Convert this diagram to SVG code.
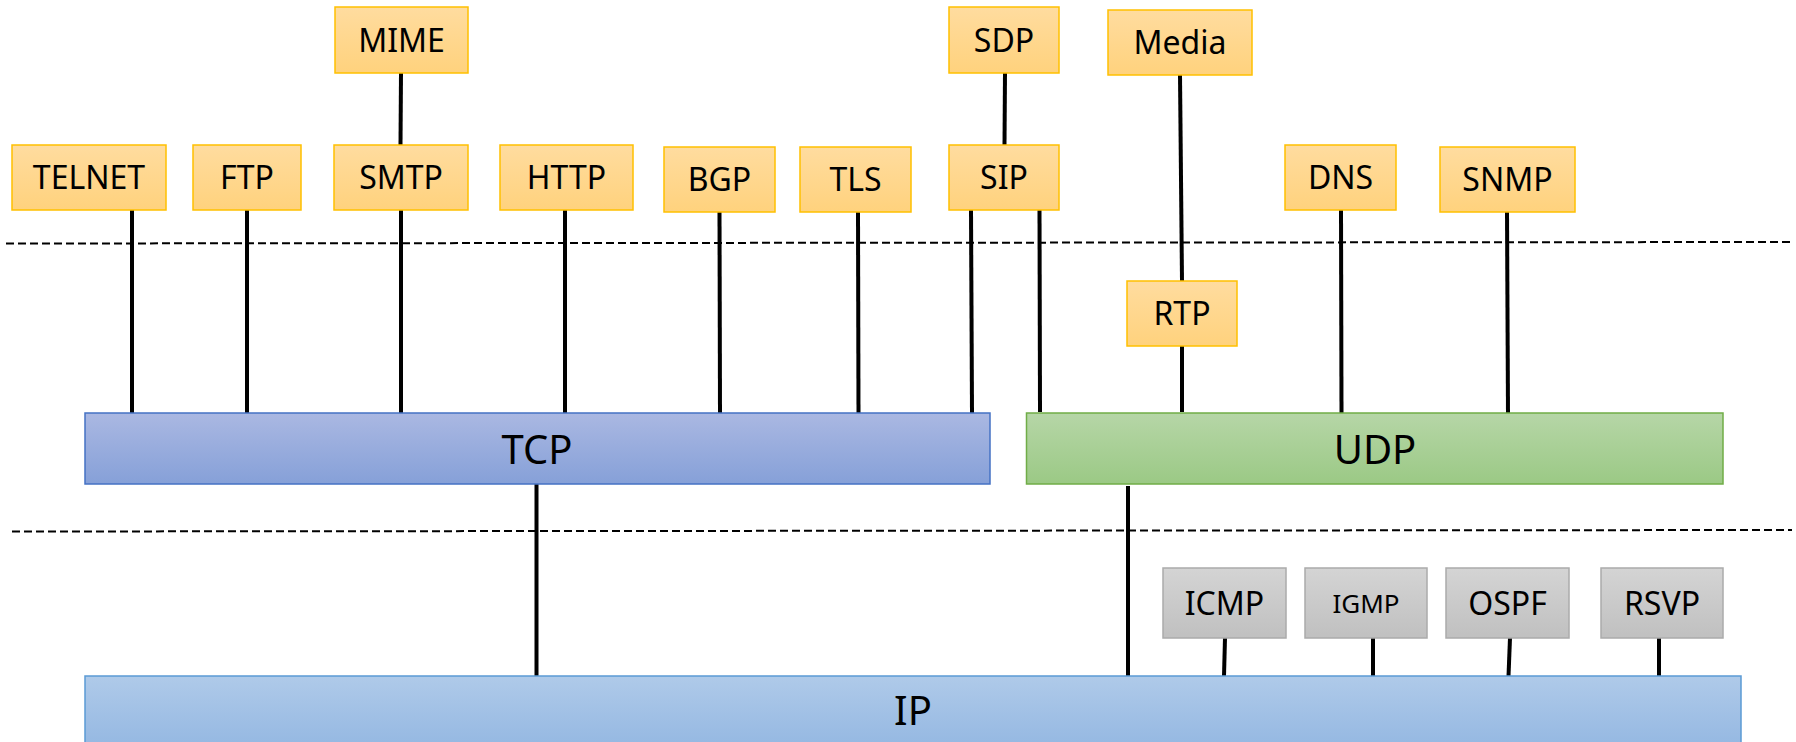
<svg xmlns="http://www.w3.org/2000/svg" width="1796" height="742" viewBox="0 0 1796 742">
  <defs>
    <linearGradient id="gOrange" x1="0" y1="0" x2="0" y2="1">
      <stop offset="0" stop-color="#FFDC9F"/>
      <stop offset="1" stop-color="#FFD27D"/>
    </linearGradient>
    <linearGradient id="gTcp" x1="0" y1="0" x2="0" y2="1">
      <stop offset="0" stop-color="#AAB8E2"/>
      <stop offset="1" stop-color="#86A0D8"/>
    </linearGradient>
    <linearGradient id="gUdp" x1="0" y1="0" x2="0" y2="1">
      <stop offset="0" stop-color="#B6D6A7"/>
      <stop offset="1" stop-color="#9BC985"/>
    </linearGradient>
    <linearGradient id="gIp" x1="0" y1="0" x2="0" y2="1">
      <stop offset="0" stop-color="#AFCAE9"/>
      <stop offset="1" stop-color="#95B8E2"/>
    </linearGradient>
    <linearGradient id="gGray" x1="0" y1="0" x2="0" y2="1">
      <stop offset="0" stop-color="#D4D4D4"/>
      <stop offset="1" stop-color="#C0C0C0"/>
    </linearGradient>
  </defs>
  <style>
    .app { fill: url(#gOrange); stroke: #FFC000; stroke-width: 1.5; }
    .net { fill: url(#gGray); stroke: #ABABAB; stroke-width: 1.5; }
    .tcp { fill: url(#gTcp); stroke: #4472C4; stroke-width: 1.5; }
    .udp { fill: url(#gUdp); stroke: #70AD47; stroke-width: 1.5; }
    .ip  { fill: url(#gIp); stroke: #5B9BD5; stroke-width: 1.5; }
    .lbl { font-family: "Noto Sans", "Open Sans", sans-serif; font-size: 32px; fill: #000; text-anchor: middle; }
    .big { font-family: "Noto Sans", "Open Sans", sans-serif; font-size: 40px; fill: #000; text-anchor: middle; }
    .link { stroke: #000; stroke-width: 4; fill: none; }
    .layer { stroke: #000; stroke-width: 2; stroke-dasharray: 8 4; fill: none; }
  </style>

  <rect width="1796" height="742" fill="#FFFFFF"/>

  <!-- layer separators -->
  <g id="separators">
    <line class="layer" x1="6" y1="243.5" x2="1790" y2="242"/>
    <line class="layer" x1="12" y1="531.5" x2="1792" y2="530"/>
  </g>

  <!-- connectors -->
  <g id="connectors">
    <line class="link" x1="132" y1="210" x2="132" y2="413"/>
    <line class="link" x1="247" y1="210" x2="247" y2="413"/>
    <line class="link" x1="401" y1="210" x2="401" y2="413"/>
    <line class="link" x1="401" y1="73" x2="400.5" y2="145"/>
    <line class="link" x1="565" y1="210" x2="565" y2="413"/>
    <line class="link" x1="719.5" y1="212" x2="720" y2="414"/>
    <line class="link" x1="858" y1="212" x2="858.5" y2="414"/>
    <line class="link" x1="971" y1="210" x2="972" y2="413"/>
    <line class="link" x1="1039.5" y1="210" x2="1040" y2="412"/>
    <line class="link" x1="1005" y1="73" x2="1004.5" y2="145"/>
    <line class="link" x1="1180" y1="75" x2="1182" y2="281"/>
    <line class="link" x1="1182" y1="346" x2="1182" y2="412"/>
    <line class="link" x1="1341" y1="210" x2="1341.5" y2="413"/>
    <line class="link" x1="1507" y1="212" x2="1508" y2="413"/>
    <line class="link" x1="536.5" y1="484" x2="536.5" y2="676"/>
    <line class="link" x1="1128" y1="486" x2="1128" y2="676"/>
    <line class="link" x1="1225" y1="638" x2="1224" y2="676"/>
    <line class="link" x1="1373" y1="638" x2="1373" y2="676"/>
    <line class="link" x1="1510" y1="638" x2="1508.5" y2="676"/>
    <line class="link" x1="1659" y1="638" x2="1659" y2="676"/>
  </g>

  <!-- application layer -->
  <g id="mime"><rect class="app" x="335" y="7" width="133" height="66"/><text class="lbl" x="401.5" y="52">MIME</text></g>
  <g id="sdp"><rect class="app" x="949" y="7" width="110" height="66"/><text class="lbl" x="1004" y="52">SDP</text></g>
  <g id="media"><rect class="app" x="1108" y="10" width="144" height="65"/><text class="lbl" x="1180" y="54">Media</text></g>
  <g id="telnet"><rect class="app" x="12" y="145" width="154" height="65"/><text class="lbl" x="89" y="189">TELNET</text></g>
  <g id="ftp"><rect class="app" x="193" y="145" width="108" height="65"/><text class="lbl" x="247" y="189">FTP</text></g>
  <g id="smtp"><rect class="app" x="334" y="145" width="134" height="65"/><text class="lbl" x="401" y="189">SMTP</text></g>
  <g id="http"><rect class="app" x="500" y="145" width="133" height="65"/><text class="lbl" x="566.5" y="189">HTTP</text></g>
  <g id="bgp"><rect class="app" x="664" y="147" width="111" height="65"/><text class="lbl" x="719.5" y="191">BGP</text></g>
  <g id="tls"><rect class="app" x="800" y="147" width="111" height="65"/><text class="lbl" x="855.5" y="191">TLS</text></g>
  <g id="sip"><rect class="app" x="949" y="145" width="110" height="65"/><text class="lbl" x="1004" y="189">SIP</text></g>
  <g id="dns"><rect class="app" x="1285" y="145" width="111" height="65"/><text class="lbl" x="1340.5" y="189">DNS</text></g>
  <g id="snmp"><rect class="app" x="1440" y="147" width="135" height="65"/><text class="lbl" x="1507.5" y="191">SNMP</text></g>
  <g id="rtp"><rect class="app" x="1127" y="281" width="110" height="65"/><text class="lbl" x="1182" y="325">RTP</text></g>

  <!-- transport layer -->
  <g id="tcp"><rect class="tcp" x="85" y="413" width="905" height="71"/><text class="big" x="537" y="464">TCP</text></g>
  <g id="udp"><rect class="udp" x="1026.5" y="413" width="696.5" height="71"/><text class="big" x="1375" y="464">UDP</text></g>

  <!-- network layer -->
  <g id="icmp"><rect class="net" x="1163" y="568" width="123" height="70"/><text class="lbl" x="1224.5" y="615">ICMP</text></g>
  <g id="igmp"><rect class="net" x="1305" y="568" width="122" height="70"/><text class="lbl" x="1366" y="613" style="font-size:26px">IGMP</text></g>
  <g id="ospf"><rect class="net" x="1446" y="568" width="123" height="70"/><text class="lbl" x="1507.5" y="615">OSPF</text></g>
  <g id="rsvp"><rect class="net" x="1601" y="568" width="122" height="70"/><text class="lbl" x="1662" y="615">RSVP</text></g>
  <g id="ip"><rect class="ip" x="85" y="676" width="1656" height="70"/><text class="big" x="913" y="725">IP</text></g>
</svg>
